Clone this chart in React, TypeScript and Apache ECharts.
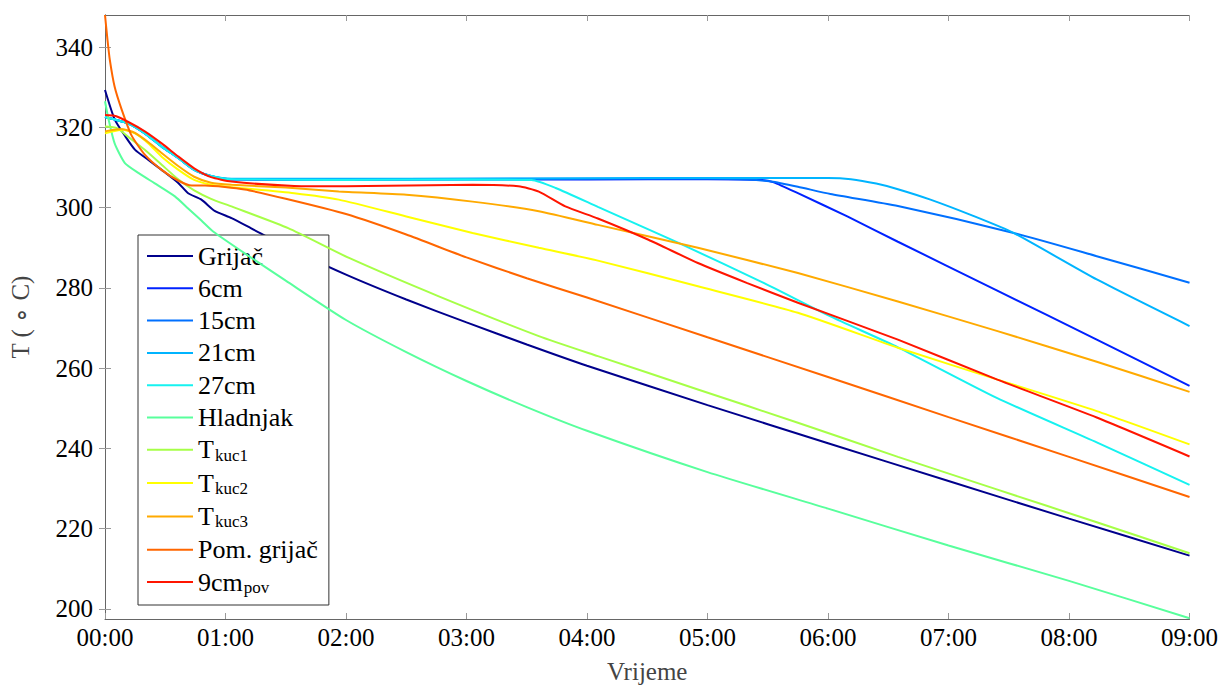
import React, { useEffect, useRef } from "react";
import * as echarts from "echarts";

type Pt = [number, number];

// time in hours, temperature in °C
const grijac: Pt[] = [[0,329.3],[0.08,322],[0.17,317.7],[0.25,314.4],[0.36,311.9],[0.47,309.4],[0.61,306.1],[0.69,303.6],[0.8,302],[0.91,299.2],[1.05,297.4],[1.21,294.9],[1.5,290.3],[2,283.3],[2.5,277.1],[3,271.4],[3.5,265.9],[4,260.6],[5,250.8],[6,241.3],[7,231.9],[8,222.5],[9,213.3]];
const cm6: Pt[] = [[0,322.6],[0.19,321],[0.33,318.5],[0.47,315.2],[0.61,312.3],[0.74,309.4],[0.88,307.8],[1.05,307],[2,306.9],[3,307],[4,307],[5,307.1],[5.45,306.9],[5.55,306.3],[5.75,303.6],[6.16,297.8],[6.58,291.5],[7.4,279.4],[8.23,267.1],[9,255.6]];
const cm15: Pt[] = [[0,322.6],[0.19,321],[0.33,318.5],[0.47,315.2],[0.61,312.3],[0.74,309.4],[0.88,307.9],[1.05,307.1],[2,307.1],[3,307.2],[4,307.2],[5,307.2],[5.33,307],[5.53,306.5],[5.75,305.2],[6.02,303.4],[6.58,300.4],[7.54,293.7],[8.23,287.9],[9,281.3]];
const cm21: Pt[] = [[0,322.6],[0.19,321],[0.33,318.5],[0.47,315.2],[0.61,312.3],[0.74,309.4],[0.88,307.9],[1.05,307.2],[2,307.2],[3,307.2],[4,307.3],[5,307.4],[6,307.4],[6.19,307.1],[6.4,306],[6.58,304.6],[6.85,302],[7.2,298],[7.54,293.7],[8.23,282.1],[9,270.5]];
const cm27: Pt[] = [[0,322.6],[0.19,321],[0.33,318.5],[0.47,315.2],[0.61,312.3],[0.74,309.4],[0.88,307.9],[1.05,307.1],[2,306.9],[3,307],[3.54,306.9],[3.74,304.9],[4.09,300.2],[4.76,291.2],[5.47,281.2],[6.02,272.9],[6.58,265.2],[7.4,252.6],[8.23,241.5],[9,230.9]];
const hladnjak: Pt[] = [[0,326.5],[0.03,321.9],[0.08,316],[0.165,311.1],[0.28,308.6],[0.41,306.1],[0.58,302.8],[0.69,299.8],[0.8,296.8],[0.9,294],[1.2,287.8],[1.5,281.8],[2,272],[2.5,264],[3,256.8],[3.5,250.3],[4,244.4],[5,234.1],[6,225],[7,215.8],[8,207],[9,197.7]];
const tkuc1: Pt[] = [[0,320.2],[0.1,319.8],[0.19,317.7],[0.33,314.4],[0.47,310.7],[0.61,307],[0.74,304.3],[0.88,302.2],[1.05,300.3],[1.52,294.9],[2.03,287.4],[2.77,277.9],[3.6,268],[4.09,263],[4.92,254.7],[5.75,246.4],[6.58,237.9],[7.4,229.8],[8.23,221.6],[9,213.9]];
const tkuc2: Pt[] = [[0,318.5],[0.14,319.4],[0.25,318.5],[0.36,316],[0.47,312.7],[0.61,309.4],[0.74,306.9],[0.88,305.7],[1.05,305.1],[1.57,303.6],[1.94,302],[2.5,297.8],[3.05,293.7],[3.6,290],[4.09,286.8],[4.92,280.4],[5.75,273.8],[6.58,265.1],[7.4,257.2],[8.23,249.3],[9,241]];
const tkuc3: Pt[] = [[0,319],[0.14,319.6],[0.25,318.6],[0.36,316.3],[0.47,313.6],[0.61,310.3],[0.74,307.7],[0.88,306.2],[1.05,305.7],[1.5,305],[1.94,304],[2.5,303.2],[3.05,301.5],[3.6,299.1],[4.09,295.7],[4.92,290],[5.75,283.7],[6.58,276.6],[7.4,269.3],[8.23,261.6],[9,254.1]];
const pomGrijac: Pt[] = [[0,348],[0.02,342],[0.04,336.8],[0.08,330.1],[0.14,324.3],[0.22,318],[0.33,313.2],[0.47,309.4],[0.61,306.7],[0.72,305.5],[0.83,305.5],[1.16,304.5],[1.5,302.2],[2,298.4],[2.5,293.3],[3,287.6],[3.5,282.4],[4,277.6],[5,267.7],[6,257.8],[7,247.8],[8,237.9],[9,227.9]];
const cm9pov: Pt[] = [[0,323.1],[0.08,322.9],[0.19,321.4],[0.33,319],[0.47,316],[0.61,312.7],[0.74,309.8],[0.88,307.6],[1.05,306.5],[1.57,305.4],[2,305.3],[3.05,305.7],[3.43,305.3],[3.6,304],[3.82,300.3],[4.09,297.3],[4.51,292],[4.92,286.2],[5.33,281.2],[5.75,276.3],[6.58,267.1],[7.4,257.2],[8.23,247.7],[9,238]];

const seriesNames = ["Grijač", "6cm", "15cm", "21cm", "27cm", "Hladnjak", "Tkuc1", "Tkuc2", "Tkuc3", "Pom. grijač", "9cmpov"];
const seriesData = [grijac, cm6, cm15, cm21, cm27, hladnjak, tkuc1, tkuc2, tkuc3, pomGrijac, cm9pov];
const seriesColors = ["#00008c", "#0022ff", "#0070ff", "#00b4ff", "#16f2f0", "#58ff9c", "#a6ff47", "#ffff00", "#ffaa00", "#ff6600", "#ff1500"];

const yTicks = [200, 220, 240, 260, 280, 300, 320, 340];
const xMin = 0;
const xMax = 9;
const yMin = 197.5;
const yMax = 348;

const FONT = "'Liberation Serif', 'Times New Roman', serif";

function legendLabel(name: string): string {
  if (name.startsWith("Tkuc")) return "{m|T}{s|" + name.slice(1) + "}";
  if (name === "9cmpov") return "{m|9cm}{s|pov}";
  return "{m|" + name + "}";
}

export default function App() {
  const ref = useRef<HTMLDivElement>(null);
  useEffect(() => {
    if (!ref.current) return;
    const chart = echarts.init(ref.current, undefined, { renderer: "svg" });
    const axisLineStyle = { color: "#666", width: 1 };
    const tickStyle = { color: "#999", width: 1 };
    chart.setOption({
      animation: false,
      backgroundColor: "#fff",
      grid: { left: 105, right: 28, top: 15, bottom: 69, containLabel: false },
      legend: {
        orient: "vertical",
        left: 138,
        top: 235,
        padding: [8, 11, 9, 9],
        itemWidth: 46,
        itemHeight: 2,
        itemGap: 6.3,
        icon: "rect",
        backgroundColor: "#fff",
        borderColor: "#333",
        borderWidth: 1,
        borderRadius: 0,
        data: seriesNames,
        formatter: legendLabel,
        textStyle: {
          width: 140,
          fontFamily: FONT,
          color: "#000",
          rich: {
            m: { fontFamily: FONT, fontSize: 26, lineHeight: 26, color: "#000", verticalAlign: "top" },
            s: { fontFamily: FONT, fontSize: 17, lineHeight: 15, padding: [10, 0, 0, 1], color: "#000", verticalAlign: "top" },
          },
        },
      },
      xAxis: [
        {
          type: "value",
          min: xMin,
          max: xMax,
          interval: 1,
          name: "Vrijeme",
          nameLocation: "middle",
          nameGap: 40,
          nameTextStyle: { fontFamily: FONT, fontSize: 25, color: "#444" },
          axisLine: { show: true, lineStyle: axisLineStyle },
          axisTick: { show: true, inside: true, length: 6, lineStyle: tickStyle },
          axisLabel: {
            fontFamily: FONT,
            fontSize: 25,
            color: "#000",
            margin: 6,
            formatter: (v: number) => (v < 10 ? "0" : "") + v + ":00",
          },
          splitLine: { show: false },
        },
        {
          type: "value",
          position: "top",
          min: xMin,
          max: xMax,
          interval: 1,
          axisLine: { show: true, lineStyle: axisLineStyle },
          axisTick: { show: true, inside: true, length: 6, lineStyle: tickStyle },
          axisLabel: { show: false },
          splitLine: { show: false },
        },
      ],
      yAxis: [
        {
          type: "value",
          min: yMin,
          max: yMax,
          name: "T ( ∘ C)",
          nameLocation: "middle",
          nameGap: 72,
          nameTextStyle: { fontFamily: FONT, fontSize: 25, color: "#444" },
          axisLine: { show: true, lineStyle: axisLineStyle },
          axisTick: { show: true, inside: true, length: 6, lineStyle: tickStyle, customValues: yTicks },
          axisLabel: { fontFamily: FONT, fontSize: 25, color: "#000", margin: 12, customValues: yTicks },
          splitLine: { show: false },
        },
        {
          type: "value",
          position: "right",
          min: yMin,
          max: yMax,
          axisLine: { show: true, lineStyle: axisLineStyle },
          axisTick: { show: true, inside: true, length: 6, lineStyle: tickStyle, customValues: yTicks },
          axisLabel: { show: false },
          splitLine: { show: false },
        },
      ],
      series: seriesNames.map((name, i) => ({
        name,
        type: "line",
        data: seriesData[i],
        color: seriesColors[i],
        showSymbol: false,
        smooth: 0.2,
        clip: true,
        lineStyle: { width: 2, color: seriesColors[i] },
        itemStyle: { color: seriesColors[i] },
        z: 2 + i,
      })),
    });
    return () => chart.dispose();
  }, []);
  return (
    <div
      ref={ref}
      style={{ position: "absolute", left: 0, top: 0, width: 1221, height: 689 }}
    />
  );
}
